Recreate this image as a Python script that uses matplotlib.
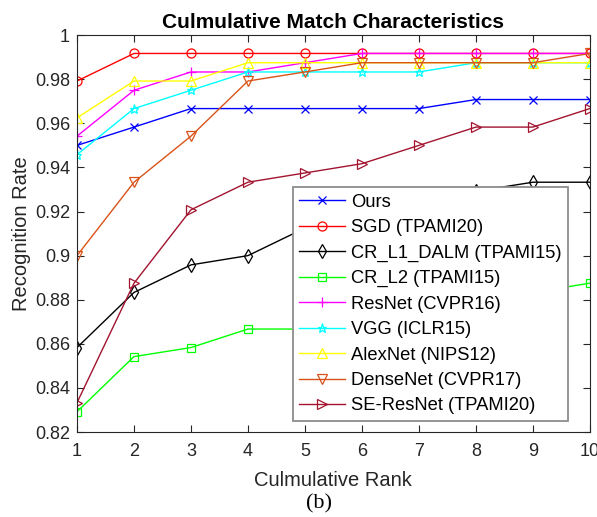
import matplotlib
matplotlib.use("Agg")
import matplotlib.pyplot as plt

ranks = [1, 2, 3, 4, 5, 6, 7, 8, 9, 10]
labels = ["Ours", "SGD (TPAMI20)", "CR_L1_DALM (TPAMI15)", "CR_L2 (TPAMI15)",
          "ResNet (CVPR16)", "VGG (ICLR15)", "AlexNet (NIPS12)",
          "DenseNet (CVPR17)", "SE-ResNet (TPAMI20)"]
ours = [0.9500, 0.9583, 0.9667, 0.9667, 0.9667, 0.9667, 0.9667, 0.9708, 0.9708, 0.9708]
sgd = [0.9792, 0.9917, 0.9917, 0.9917, 0.9917, 0.9917, 0.9917, 0.9917, 0.9917, 0.9917]
cr_l1 = [0.8583, 0.8833, 0.8958, 0.9000, 0.9125, 0.9208, 0.9250, 0.9292, 0.9333, 0.9333]
cr_l2 = [0.8292, 0.8542, 0.8583, 0.8667, 0.8667, 0.8708, 0.8750, 0.8792, 0.8833, 0.8875]
resnet = [0.9542, 0.9750, 0.9833, 0.9833, 0.9875, 0.9917, 0.9917, 0.9917, 0.9917, 0.9917]
vgg = [0.9458, 0.9667, 0.9750, 0.9833, 0.9833, 0.9833, 0.9833, 0.9875, 0.9875, 0.9875]
alexnet = [0.9625, 0.9792, 0.9792, 0.9875, 0.9875, 0.9875, 0.9875, 0.9875, 0.9875, 0.9875]
densenet = [0.9000, 0.9333, 0.9542, 0.9792, 0.9833, 0.9875, 0.9875, 0.9875, 0.9875, 0.9917]
seresnet = [0.8333, 0.8875, 0.9208, 0.9333, 0.9375, 0.9417, 0.9500, 0.9583, 0.9583, 0.9667]
yticks = [0.82, 0.84, 0.86, 0.88, 0.9, 0.92, 0.94, 0.96, 0.98, 1]
ytick_labels = ["0.82", "0.84", "0.86", "0.88", "0.9", "0.92", "0.94", "0.96", "0.98", "1"]

series = [ours, sgd, cr_l1, cr_l2, resnet, vgg, alexnet, densenet, seresnet]
colors = ["#0000ff", "#ff0000", "#000000", "#00ff00", "#ff00ff", "#00ffff",
          "#ffff00", "#d95319", "#a2142f"]
markers = ["x", "o", "d", "s", "+", "*", "^", "v", ">"]
msizes = [5.5, 6.5, 7, 5.5, 7, 6.5, 7.5, 7.5, 7.5]

plt.rcParams['font.family'] = ['Liberation Sans', 'DejaVu Sans']
fig = plt.figure(figsize=(5.97, 5.17), dpi=100)
ax = fig.add_axes([0.129, 0.1644, 0.859, 0.7676])

for vals, lab, c, m, ms in zip(series, labels, colors, markers, msizes):
    ax.plot(ranks, vals, color=c, marker=m, markersize=ms, markerfacecolor='none',
            markeredgewidth=0.9, linewidth=1.0, label=lab)

ax.set_xlim(1, 10)
ax.set_ylim(0.82, 1)
ax.set_xticks(ranks)
ax.set_yticks(yticks)
ax.set_yticklabels(ytick_labels)
ax.tick_params(direction='in', top=True, right=True, labelsize=13, length=5,
               color='#262626', labelcolor='#262626')
ax.tick_params(axis='x', pad=8)
ax.tick_params(axis='y', pad=5)
for s in ax.spines.values():
    s.set_color('#262626')
    s.set_linewidth(0.8)
ax.set_title("Culmulative Match Characteristics", fontsize=15, fontweight='bold', pad=5)
ax.set_xlabel("Culmulative Rank", fontsize=14.5, color='#262626', labelpad=8)
ax.set_ylabel("Recognition Rate", fontsize=14.5, color='#262626', labelpad=3)

leg = ax.legend(loc='upper left', bbox_to_anchor=(0.421, 0.617), fontsize=13.2,
                frameon=True, fancybox=False, framealpha=1, edgecolor='#8c8c8c',
                handlelength=2.5, borderpad=0.35, labelspacing=0.46,
                handletextpad=0.3, borderaxespad=0)
leg.get_frame().set_linewidth(1.3)

fig.text(0.535, 0.025, "(b)", fontsize=16, family='Liberation Serif',
         ha='center', va='center')

fig.savefig("out.png", dpi=100)
